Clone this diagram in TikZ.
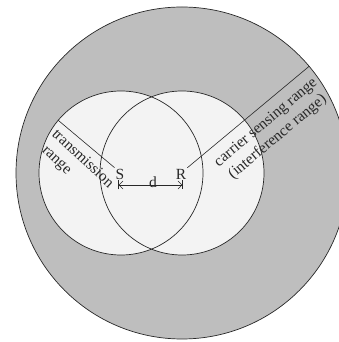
\documentclass[tikz,border=0pt]{standalone}
\usepackage{fontspec}
\setmainfont{Liberation Serif}
\usetikzlibrary{calc,arrows.meta}
\definecolor{outergray}{RGB}{190,190,190}
\definecolor{innergray}{RGB}{243,243,243}
\definecolor{linecol}{RGB}{40,40,40}
\begin{document}
\begin{tikzpicture}[x=1pt,y=1pt,
  outline/.style={draw=linecol,line width=0.7pt},
  lbl/.style={font=\fontsize{15.5}{18.5}\selectfont,text=linecol,inner sep=1pt},
  ray/.style={draw=linecol,line width=0.6pt},
  dimtip/.tip={Straight Barb[length=4pt,width=8pt,line width=0.6pt]},
  bartip/.tip={Bar[width=9pt,line width=0.6pt,sep=0pt]}]
\useasboundingbox (0,0) rectangle (339,342);
\clip (0,0) rectangle (339,342);
\coordinate (cs) at (121,169);
\coordinate (cr) at (182,169);
% outer carrier sensing range
\fill[outergray] (cr) circle (166);
\draw[outline] (cr) circle (166);
% transmission ranges
\fill[innergray] (cs) circle (82);
\fill[innergray] (cr) circle (82);
\draw[outline] (cs) circle (82);
\draw[outline] (cr) circle (82);
% labels
\node[lbl] (S) at (120,168) {S};
\node[lbl] (R) at (181,168) {R};
\coordinate (se) at ($(cs)+(140:82)$);
\coordinate (re) at ($(cr)+(40:166)$);
\draw[ray] (S.north west) -- (se);
\draw[ray] (R.north east) -- (re);
\coordinate (a1) at (118,157);
\coordinate (a2) at (183,157);
\draw[ray,{bartip[sep=0pt]dimtip}-{dimtip[sep=0pt]bartip}] (a1) -- (a2);
\node[lbl] (d) at (153,160) {d};
\node[lbl,rotate=-43,align=left] (tr) at (76,176) {transmission\\\hspace{4pt}range};
\node[lbl,rotate=40,align=center] (cs1) at (272,212) {carrier sensing range\\(interference range)};
\end{tikzpicture}
\end{document}
